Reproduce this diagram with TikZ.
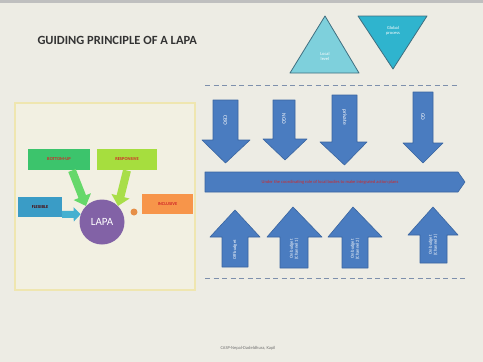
\documentclass[tikz,border=0pt]{standalone}
\usepackage{fontspec}
\setmainfont{Carlito}
\usetikzlibrary{arrows.meta}
\definecolor{bg}{HTML}{EDECE4}
\definecolor{panel}{HTML}{F2F0E2}
\definecolor{panelline}{HTML}{EFE6B0}
\definecolor{arrowblue}{HTML}{4A7CC0}
\definecolor{arrowedge}{HTML}{3A65A0}
\definecolor{dashc}{HTML}{7E90AC}
\definecolor{tri1}{HTML}{7ED0DC}
\definecolor{tri2}{HTML}{2FB4CE}
\definecolor{triedge}{HTML}{3F6F80}
\definecolor{gbox}{HTML}{3CC46C}
\definecolor{lbox}{HTML}{A6DE3E}
\definecolor{tbox}{HTML}{3A9CC6}
\definecolor{obox}{HTML}{F7954A}
\definecolor{lapac}{HTML}{8262A6}
\definecolor{garrow}{HTML}{66D86A}
\definecolor{larrow}{HTML}{A8DE48}
\definecolor{tarrow}{HTML}{45B0D0}
\definecolor{redtxt}{HTML}{D02828}
\tikzset{
  blockarrow/.style={fill=arrowblue, draw=arrowedge, line width=0.6pt, line join=round},
  downlabel/.style={text=white, font=\fontsize{5.5}{6}\selectfont, rotate=-90, align=center, inner sep=0pt},
  uplabel/.style={text=white, font=\fontsize{4.5}{5}\selectfont, rotate=90, align=center, inner sep=0pt},
  principle/.style={rectangle, minimum height=21pt, inner sep=1pt, text=redtxt, font=\bfseries\fontsize{4.5}{5}\selectfont},
  dashline/.style={draw=dashc, line width=1pt, dash pattern=on 5pt off 3.5pt},
  fatarrow/.style={line width=8pt, -{Triangle[length=10pt,width=18pt]}},
}
\begin{document}
\begin{tikzpicture}[x=1pt,y=-1pt]
\useasboundingbox (0,0) rectangle (483,362);
\fill[bg] (0,0) rectangle (483,362);
\fill[black!25] (0,0) rectangle (483,2.5);
% title
\node[anchor=west, font=\bfseries\fontsize{12.5}{13}\selectfont, text=black!80] (title) at (34,40) {GUIDING PRINCIPLE OF A LAPA};
% triangles
\filldraw[fill=tri1, draw=triedge, line width=0.8pt, line join=round] (325,16) -- (359,73) -- (290,73) -- cycle;
\node[text=white, font=\fontsize{4.5}{5}\selectfont, align=center] (loc) at (325,56) {Local\\level};
\filldraw[fill=tri2, draw=triedge, line width=0.8pt, line join=round] (358,16) -- (427,16) -- (393,69) -- cycle;
\node[text=white, font=\fontsize{4.5}{5}\selectfont, align=center] (glob) at (393,31) {Global\\process};
% dashed lines
\coordinate (d1a) at (205,85); \coordinate (d1b) at (458,85);
\coordinate (d2a) at (205,278); \coordinate (d2b) at (467,278);
\draw[dashline] (d1a) -- (d1b);
\draw[dashline] (d2a) -- (d2b);
% left panel
\filldraw[fill=panel, draw=panelline, line width=1.2pt] (15,103) rectangle (195,290);
\node[principle, fill=gbox, minimum width=62pt] (bu) at (59,159.5) {BOTTOM-UP};
\node[principle, fill=lbox, minimum width=60pt] (resp) at (127,159.5) {RESPONSIVE};
\node[principle, fill=tbox, minimum width=44pt, minimum height=20pt, text=black!70!red] (flex) at (40,207) {FLEXIBLE};
\node[principle, fill=obox, minimum width=51pt, minimum height=20pt] (incl) at (167.5,204) {INCLUSIVE};
\node[circle, fill=lapac, minimum size=45pt, inner sep=0pt, text=white, font=\fontsize{11}{12}\selectfont] (lapa) at (102,222) {LAPA};
\draw[fatarrow, garrow] (72,170.5) -- (lapa.north west);
\draw[fatarrow, larrow] (127,170.5) -- (lapa.north east);
\coordinate (flexout) at (62,214.5);
\draw[line width=7pt, tarrow, -{Triangle[length=7pt,width=14pt]}] (flexout) -- (lapa.160);
\node[circle, fill=obox!70!brown, minimum size=7pt, inner sep=0pt] (dot) at (134,212) {};
% down arrows
\filldraw[blockarrow] (213,100) -- (238,100) -- (238,140) -- (250,140) -- (225.5,163) -- (202,140) -- (213,140) -- cycle;
\node[downlabel] (cbo) at (225.5,120) {CBO};
\filldraw[blockarrow] (273,100) -- (295,100) -- (295,139) -- (307,139) -- (285,160) -- (263,139) -- (273,139) -- cycle;
\node[downlabel] (ngo) at (284,119) {NGO};
\filldraw[blockarrow] (332,95) -- (357,95) -- (357,142) -- (367,142) -- (344.5,165) -- (320,142) -- (332,142) -- cycle;
\node[downlabel] (priv) at (344.5,117) {private};
\filldraw[blockarrow] (413,92) -- (433,92) -- (433,143) -- (443,143) -- (423,163) -- (403,143) -- (413,143) -- cycle;
\node[downlabel] (go) at (423,117) {GO};
% horizontal arrow
\filldraw[blockarrow] (205,172) -- (458,172) -- (465,182) -- (458,192) -- (205,192) -- cycle;
\node[text=redtxt, font=\fontsize{4.5}{5}\selectfont, inner sep=0pt] (coord) at (330,182) {Under the coordinating role of local bodies to make integrated action plans};
% up arrows
\filldraw[blockarrow] (235,210) -- (260,237) -- (248,237) -- (248,267) -- (222,267) -- (222,237) -- (210,237) -- cycle;
\node[uplabel] (off) at (235,250) {Off budget};
\filldraw[blockarrow] (293,207) -- (322,237) -- (308,237) -- (308,268) -- (280,268) -- (280,237) -- (267,237) -- cycle;
\node[uplabel] (on1) at (294,249) {On budget\\(Channel 1)};
\filldraw[blockarrow] (353,207) -- (382,237) -- (368,237) -- (368,268) -- (342,268) -- (342,237) -- (328,237) -- cycle;
\node[uplabel] (on2) at (355,249) {On budget\\(Channel 2)};
\filldraw[blockarrow] (433,207) -- (458,235) -- (447,235) -- (447,263) -- (420,263) -- (420,235) -- (408,235) -- cycle;
\node[uplabel] (on3) at (433,245) {On budget\\(Channel 3)};
% footer
\node[text=black!55, font=\fontsize{4.5}{5}\selectfont] (foot) at (248,348) {CASP-Nepal-Dadeldhura, Kapil};
\end{tikzpicture}
\end{document}
